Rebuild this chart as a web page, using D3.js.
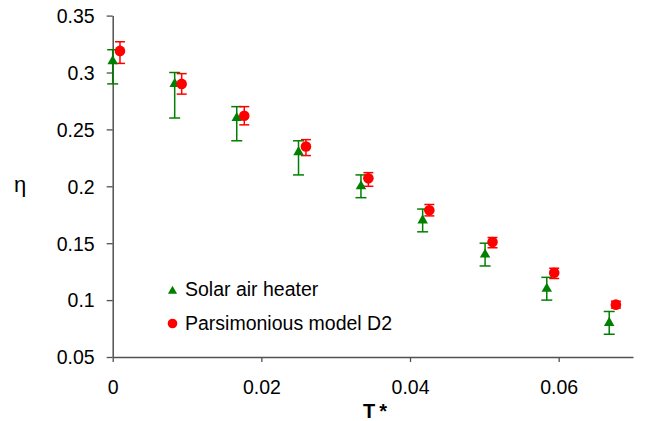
<!DOCTYPE html>
<html><head><meta charset="utf-8">
<script src="https://cdn.jsdelivr.net/npm/d3@7"></script>
<style>body{margin:0;background:#fff;} text{font-family:"Liberation Sans",Arial,sans-serif;}</style>
</head><body>
<svg id="chart" width="646" height="421"></svg>
<script>
// Data
const seriesNames = ["Solar air heater", "Parsimonious model D2"];
const heaterX = [0, 0.00834, 0.01669, 0.0250, 0.0334, 0.0417, 0.0501, 0.0584, 0.0668];
const heaterY = [0.31, 0.29, 0.26, 0.23, 0.20, 0.17, 0.14, 0.11, 0.08];
const heaterLo = [0.29, 0.26, 0.24, 0.21, 0.19, 0.16, 0.13, 0.10, 0.07];
const heaterHi = [0.32, 0.30, 0.27, 0.24, 0.21, 0.18, 0.15, 0.12, 0.09];
const modelX = [0.00098, 0.00928, 0.0177, 0.0260, 0.0344, 0.0426, 0.0511, 0.0594, 0.0677];
const modelY = [0.319, 0.290, 0.262, 0.235, 0.207, 0.179, 0.151, 0.124, 0.096];
const modelLo = [0.308, 0.281, 0.254, 0.227, 0.200, 0.174, 0.146, 0.119, 0.093];
const modelHi = [0.327, 0.299, 0.270, 0.241, 0.212, 0.184, 0.155, 0.128, 0.099];
const xTicks = [0, 0.02, 0.04, 0.06];
const xTickLabels = ["0", "0.02", "0.04", "0.06"];
const yTicks = [0.05, 0.1, 0.15, 0.2, 0.25, 0.3, 0.35];
const yTickLabels = ["0.05", "0.1", "0.15", "0.2", "0.25", "0.3", "0.35"];

const svg = d3.select("#chart");
const x = d3.scaleLinear().domain([0, 0.07]).range([112.7, 633]);
const y = d3.scaleLinear().domain([0.05, 0.35]).range([357, 15.6]);
const axisColor = "#505050";
const fs = 19.5;

// X axis
const gx = svg.append("g").attr("transform", `translate(0,${y(0.05)})`)
  .call(d3.axisBottom(x).tickValues(xTicks).tickSize(5).tickSizeOuter(0)
    .tickFormat((d, i) => xTickLabels[i]));
gx.select(".domain").attr("stroke", axisColor).attr("stroke-width", 1.5);
gx.selectAll(".tick line").attr("stroke", axisColor).attr("stroke-width", 1.3);
gx.selectAll(".tick text").attr("y", 37).attr("dy", 0).attr("font-size", fs).attr("fill", "#000")
  .attr("font-family", "Liberation Sans, Arial, sans-serif");

// Y axis
const gy = svg.append("g").attr("transform", `translate(${x(0)},0)`)
  .call(d3.axisLeft(y).tickValues(yTicks).tickSize(6).tickSizeOuter(0).tickPadding(12)
    .tickFormat((d, i) => yTickLabels[i]));
gy.select(".domain").attr("stroke", axisColor).attr("stroke-width", 1.5);
gy.selectAll(".tick line").attr("stroke", axisColor).attr("stroke-width", 1.3);
gy.selectAll(".tick text").attr("dy", "0.35em").attr("font-size", fs).attr("fill", "#000")
  .attr("font-family", "Liberation Sans, Arial, sans-serif");

// Axis titles
svg.append("text").attr("x", 20).attr("y", 192).attr("text-anchor", "middle")
  .attr("font-size", 22).text("η");
svg.append("text").attr("x", 377).attr("y", 418).attr("text-anchor", "middle")
  .attr("font-size", 20).attr("font-weight", "bold").attr("letter-spacing", 4).text("T*");

// Error bars helper
function errorBars(xs, lo, hi, color, capW) {
  const g = svg.append("g").attr("stroke", color).attr("stroke-width", 1.5).attr("fill", "none");
  xs.forEach((xv, i) => {
    g.append("line").attr("x1", x(xv)).attr("x2", x(xv)).attr("y1", y(lo[i])).attr("y2", y(hi[i]));
    g.append("line").attr("x1", x(xv) - capW / 2).attr("x2", x(xv) + capW / 2).attr("y1", y(lo[i])).attr("y2", y(lo[i]));
    g.append("line").attr("x1", x(xv) - capW / 2).attr("x2", x(xv) + capW / 2).attr("y1", y(hi[i])).attr("y2", y(hi[i]));
  });
}

errorBars(heaterX, heaterLo, heaterHi, "#008000", 11);
errorBars(modelX, modelLo, modelHi, "#ff0000", 10);

const tri = d3.symbol().type(d3.symbolTriangle).size(48);
svg.append("g").selectAll("path").data(heaterX).join("path")
  .attr("d", tri).attr("fill", "#008000")
  .attr("transform", (d, i) => `translate(${x(d)},${y(heaterY[i])})`);

svg.append("g").selectAll("circle").data(modelX).join("circle")
  .attr("cx", d => x(d)).attr("cy", (d, i) => y(modelY[i])).attr("r", 5.3).attr("fill", "#ff0000");

// Legend
const lg = svg.append("g");
lg.append("path").attr("d", d3.symbol().type(d3.symbolTriangle).size(36)).attr("fill", "#008000")
  .attr("transform", "translate(172.5,291)");
lg.append("text").attr("x", 185).attr("y", 296).attr("font-size", fs).text(seriesNames[0]);
lg.append("circle").attr("cx", 172.5).attr("cy", 323.5).attr("r", 4.8).attr("fill", "#ff0000");
lg.append("text").attr("x", 185).attr("y", 329.5).attr("font-size", fs).text(seriesNames[1]);
</script>
</body></html>
